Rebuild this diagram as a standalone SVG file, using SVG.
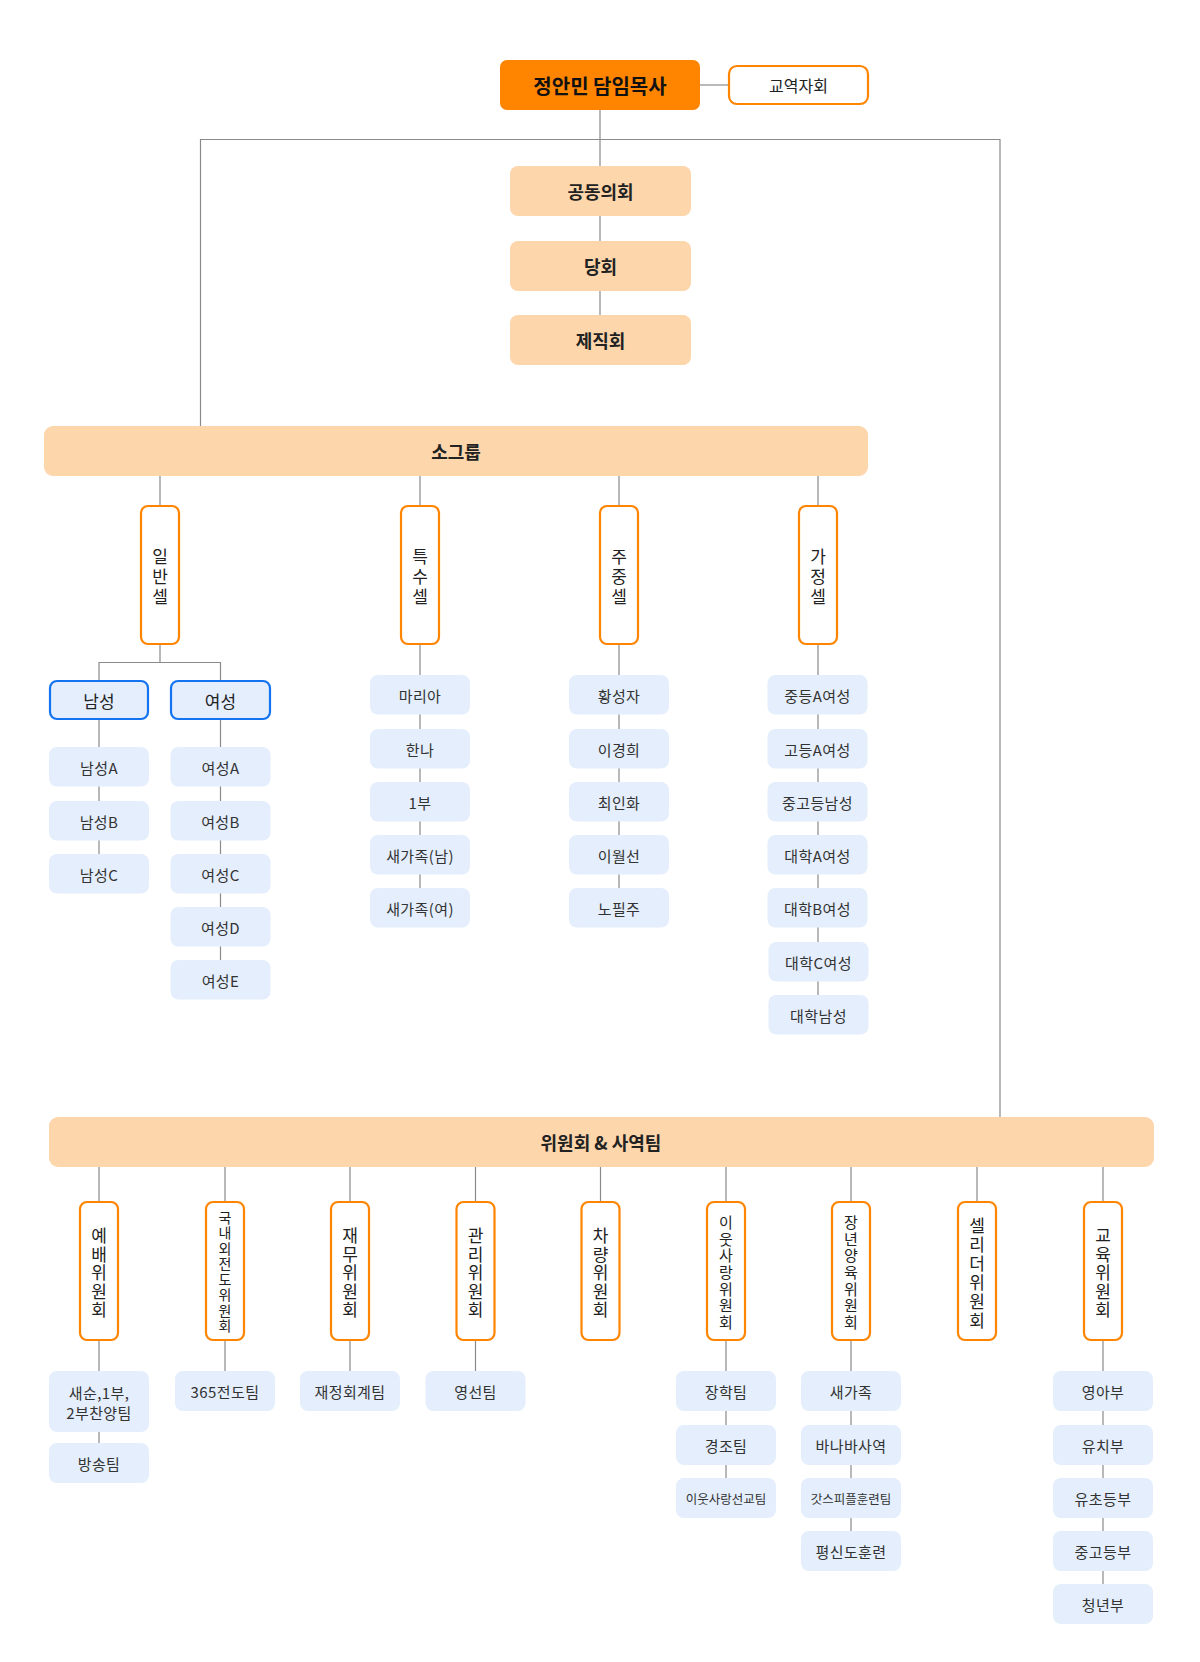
<svg xmlns="http://www.w3.org/2000/svg" width="1200" height="1662" viewBox="0 0 1200 1662">
<style>
text{font-family:"Noto Sans CJK KR","Noto Sans",sans-serif;fill:#222;text-anchor:middle;dominant-baseline:central}
.ln{fill:none;stroke:#8a8a8a;stroke-width:1.2}
.main{fill:#FF8500}
.mainT{font-size:20px;font-weight:700;fill:#111}
.out{fill:#fff;stroke:#FF8500;stroke-width:2.2}
.peach{fill:#FDD6AB}
.peachT{font-size:18px;font-weight:700}
.sub{fill:#E4EEFC}
.subT{font-size:15px;fill:#333;letter-spacing:0.4px}
.small{font-size:12.5px;fill:#333}
.blue{fill:#E4EEFC;stroke:#1473F0;stroke-width:2.2}
.blueT{font-size:17px;fill:#222}
.v17{font-size:17px}
.v15{font-size:15px}
.v14{font-size:14px}
.ctr{font-size:16px}
</style>
<rect width="1200" height="1662" fill="#fff"/>
<g id="connectors">
<path class="ln" d="M700 85H728"/>
<path class="ln" d="M600 110V166M600 216V241M600 291V315"/>
<path class="ln" d="M200.5 426V139.5H1000V1117"/>
<path class="ln" d="M160 476V506M420 476V506M619 476V506M818 476V506"/>
<path class="ln" d="M160 644V662.5M99 681V662.5H220.5V681"/>
<path class="ln" d="M99 719V854M220.5 719V960"/>
<path class="ln" d="M420 644V888M619 644V888M818 644V995"/>
<path class="ln" d="M99 1167V1202M225 1167V1202M350 1167V1202M475.5 1167V1202M600.5 1167V1202M726 1167V1202M851 1167V1202M977 1167V1202M1103 1167V1202"/>
<path class="ln" d="M99 1340V1443M225 1340V1371M350 1340V1371M475.5 1340V1371M726 1340V1478M851 1340V1531M1103 1340V1584"/>
</g>
<g id="pastor"><rect class="main" x="500" y="60" width="200" height="50" rx="7"/><text class="mainT" x="600" y="85">정안민 담임목사</text></g>
<g id="staff"><rect class="out" x="729" y="66" width="139" height="38" rx="8"/><text class="ctr" x="798.5" y="85">교역자회</text></g>
<g id="joint"><rect class="peach" x="510" y="166" width="181" height="50" rx="8"/><text class="peachT" x="600.5" y="191">공동의회</text></g>
<g id="session"><rect class="peach" x="510" y="241" width="181" height="50" rx="8"/><text class="peachT" x="600.5" y="266">당회</text></g>
<g id="deacons"><rect class="peach" x="510" y="315" width="181" height="50" rx="8"/><text class="peachT" x="600.5" y="340">제직회</text></g>
<g id="smallgroup"><rect class="peach" x="44" y="426" width="824" height="50" rx="9"/><text class="peachT" x="456" y="451">소그룹</text></g>

<g id="cell-general"><rect class="out" x="141" y="506" width="38" height="138" rx="7"/><text class="v17"><tspan x="160" y="555">일</tspan><tspan x="160" y="575">반</tspan><tspan x="160" y="595">셀</tspan></text></g>
<g id="cell-special"><rect class="out" x="401" y="506" width="38" height="138" rx="7"/><text class="v17"><tspan x="420" y="555">특</tspan><tspan x="420" y="575">수</tspan><tspan x="420" y="595">셀</tspan></text></g>
<g id="cell-weekday"><rect class="out" x="600" y="506" width="38" height="138" rx="7"/><text class="v17"><tspan x="619" y="555">주</tspan><tspan x="619" y="575">중</tspan><tspan x="619" y="595">셀</tspan></text></g>
<g id="cell-family"><rect class="out" x="799" y="506" width="38" height="138" rx="7"/><text class="v17"><tspan x="818" y="555">가</tspan><tspan x="818" y="575">정</tspan><tspan x="818" y="595">셀</tspan></text></g>

<g id="men"><rect class="blue" x="50" y="681" width="98" height="38" rx="7"/><text class="blueT" x="99" y="700">남성</text></g>
<g id="women"><rect class="blue" x="171" y="681" width="99" height="38" rx="7"/><text class="blueT" x="220.5" y="700">여성</text></g>

<g id="men-a"><rect class="sub" x="49" y="747" width="100" height="39.5" rx="8"/><text class="subT" x="99" y="767">남성A</text></g>
<g id="men-b"><rect class="sub" x="49" y="801" width="100" height="39.5" rx="8"/><text class="subT" x="99" y="821">남성B</text></g>
<g id="men-c"><rect class="sub" x="49" y="854" width="100" height="39.5" rx="8"/><text class="subT" x="99" y="874">남성C</text></g>
<g id="women-a"><rect class="sub" x="170.5" y="747" width="100" height="39.5" rx="8"/><text class="subT" x="220.5" y="767">여성A</text></g>
<g id="women-b"><rect class="sub" x="170.5" y="801" width="100" height="39.5" rx="8"/><text class="subT" x="220.5" y="821">여성B</text></g>
<g id="women-c"><rect class="sub" x="170.5" y="854" width="100" height="39.5" rx="8"/><text class="subT" x="220.5" y="874">여성C</text></g>
<g id="women-d"><rect class="sub" x="170.5" y="907" width="100" height="39.5" rx="8"/><text class="subT" x="220.5" y="927">여성D</text></g>
<g id="women-e"><rect class="sub" x="170.5" y="960" width="100" height="39.5" rx="8"/><text class="subT" x="220.5" y="980">여성E</text></g>

<g id="sp-1"><rect class="sub" x="370" y="675" width="100" height="39.5" rx="8"/><text class="subT" x="420" y="695">마리아</text></g>
<g id="sp-2"><rect class="sub" x="370" y="729" width="100" height="39.5" rx="8"/><text class="subT" x="420" y="749">한나</text></g>
<g id="sp-3"><rect class="sub" x="370" y="782" width="100" height="39.5" rx="8"/><text class="subT" x="420" y="802">1부</text></g>
<g id="sp-4"><rect class="sub" x="370" y="835" width="100" height="39.5" rx="8"/><text class="subT" x="420" y="855">새가족(남)</text></g>
<g id="sp-5"><rect class="sub" x="370" y="888" width="100" height="39.5" rx="8"/><text class="subT" x="420" y="908">새가족(여)</text></g>

<g id="wd-1"><rect class="sub" x="569" y="675" width="100" height="39.5" rx="8"/><text class="subT" x="619" y="695">황성자</text></g>
<g id="wd-2"><rect class="sub" x="569" y="729" width="100" height="39.5" rx="8"/><text class="subT" x="619" y="749">이경희</text></g>
<g id="wd-3"><rect class="sub" x="569" y="782" width="100" height="39.5" rx="8"/><text class="subT" x="619" y="802">최인화</text></g>
<g id="wd-4"><rect class="sub" x="569" y="835" width="100" height="39.5" rx="8"/><text class="subT" x="619" y="855">이월선</text></g>
<g id="wd-5"><rect class="sub" x="569" y="888" width="100" height="39.5" rx="8"/><text class="subT" x="619" y="908">노필주</text></g>

<g id="fm-1"><rect class="sub" x="767.5" y="675" width="100" height="39.5" rx="8"/><text class="subT" x="817.5" y="695">중등A여성</text></g>
<g id="fm-2"><rect class="sub" x="767.5" y="729" width="100" height="39.5" rx="8"/><text class="subT" x="817.5" y="749">고등A여성</text></g>
<g id="fm-3"><rect class="sub" x="767.5" y="782" width="100" height="39.5" rx="8"/><text class="subT" x="817.5" y="802">중고등남성</text></g>
<g id="fm-4"><rect class="sub" x="767.5" y="835" width="100" height="39.5" rx="8"/><text class="subT" x="817.5" y="855">대학A여성</text></g>
<g id="fm-5"><rect class="sub" x="767.5" y="888" width="100" height="39.5" rx="8"/><text class="subT" x="817.5" y="908">대학B여성</text></g>
<g id="fm-6"><rect class="sub" x="768.5" y="942" width="100" height="39.5" rx="8"/><text class="subT" x="818.5" y="962">대학C여성</text></g>
<g id="fm-7"><rect class="sub" x="768.5" y="995" width="100" height="39.5" rx="8"/><text class="subT" x="818.5" y="1015">대학남성</text></g>

<g id="committees"><rect class="peach" x="49" y="1117" width="1105" height="50" rx="9"/><text class="peachT" x="601" y="1142">위원회 &amp; 사역팀</text></g>

<g id="c-worship"><rect class="out" x="80" y="1202" width="38" height="138" rx="7"/><text class="v17"><tspan x="99" y="1234">예</tspan><tspan x="99" y="1252.5">배</tspan><tspan x="99" y="1271">위</tspan><tspan x="99" y="1289.5">원</tspan><tspan x="99" y="1308">회</tspan></text></g>
<g id="c-mission"><rect class="out" x="206" y="1202" width="38" height="138" rx="7"/><text class="v14"><tspan x="225" y="1216.75">국</tspan><tspan x="225" y="1232.25">내</tspan><tspan x="225" y="1247.75">외</tspan><tspan x="225" y="1263.25">전</tspan><tspan x="225" y="1278.75">도</tspan><tspan x="225" y="1294.25">위</tspan><tspan x="225" y="1309.75">원</tspan><tspan x="225" y="1325.25">회</tspan></text></g>
<g id="c-finance"><rect class="out" x="331" y="1202" width="38" height="138" rx="7"/><text class="v17"><tspan x="350" y="1234">재</tspan><tspan x="350" y="1252.5">무</tspan><tspan x="350" y="1271">위</tspan><tspan x="350" y="1289.5">원</tspan><tspan x="350" y="1308">회</tspan></text></g>
<g id="c-facility"><rect class="out" x="456.5" y="1202" width="38" height="138" rx="7"/><text class="v17"><tspan x="475.5" y="1234">관</tspan><tspan x="475.5" y="1252.5">리</tspan><tspan x="475.5" y="1271">위</tspan><tspan x="475.5" y="1289.5">원</tspan><tspan x="475.5" y="1308">회</tspan></text></g>
<g id="c-vehicle"><rect class="out" x="581.5" y="1202" width="38" height="138" rx="7"/><text class="v17"><tspan x="600.5" y="1234">차</tspan><tspan x="600.5" y="1252.5">량</tspan><tspan x="600.5" y="1271">위</tspan><tspan x="600.5" y="1289.5">원</tspan><tspan x="600.5" y="1308">회</tspan></text></g>
<g id="c-neighbor"><rect class="out" x="707" y="1202" width="38" height="138" rx="7"/><text class="v15"><tspan x="726" y="1220.9">이</tspan><tspan x="726" y="1237.6">웃</tspan><tspan x="726" y="1254.3">사</tspan><tspan x="726" y="1271">랑</tspan><tspan x="726" y="1287.7">위</tspan><tspan x="726" y="1304.4">원</tspan><tspan x="726" y="1321.1">회</tspan></text></g>
<g id="c-adult"><rect class="out" x="832" y="1202" width="38" height="138" rx="7"/><text class="v15"><tspan x="851" y="1220.9">장</tspan><tspan x="851" y="1237.6">년</tspan><tspan x="851" y="1254.3">양</tspan><tspan x="851" y="1271">육</tspan><tspan x="851" y="1287.7">위</tspan><tspan x="851" y="1304.4">원</tspan><tspan x="851" y="1321.1">회</tspan></text></g>
<g id="c-cellleader"><rect class="out" x="958" y="1202" width="38" height="138" rx="7"/><text class="v17"><tspan x="977" y="1223.5">셀</tspan><tspan x="977" y="1242.5">리</tspan><tspan x="977" y="1261.5">더</tspan><tspan x="977" y="1280.5">위</tspan><tspan x="977" y="1299.5">원</tspan><tspan x="977" y="1318.5">회</tspan></text></g>
<g id="c-education"><rect class="out" x="1084" y="1202" width="38" height="138" rx="7"/><text class="v17"><tspan x="1103" y="1234">교</tspan><tspan x="1103" y="1252.5">육</tspan><tspan x="1103" y="1271">위</tspan><tspan x="1103" y="1289.5">원</tspan><tspan x="1103" y="1308">회</tspan></text></g>

<g id="w-1"><rect class="sub" x="49" y="1371" width="100" height="61" rx="8"/><text class="subT"><tspan x="99" y="1392">새순,1부,</tspan><tspan x="99" y="1412">2부찬양팀</tspan></text></g>
<g id="w-2"><rect class="sub" x="49" y="1443" width="100" height="40" rx="8"/><text class="subT" x="99" y="1463">방송팀</text></g>
<g id="m-1"><rect class="sub" x="175" y="1371" width="100" height="40" rx="8"/><text class="subT" x="225" y="1391">365전도팀</text></g>
<g id="f-1"><rect class="sub" x="300" y="1371" width="100" height="40" rx="8"/><text class="subT" x="350" y="1391">재정회계팀</text></g>
<g id="fa-1"><rect class="sub" x="425.5" y="1371" width="100" height="40" rx="8"/><text class="subT" x="475.5" y="1391">영선팀</text></g>
<g id="n-1"><rect class="sub" x="676" y="1371" width="100" height="40" rx="8"/><text class="subT" x="726" y="1391">장학팀</text></g>
<g id="n-2"><rect class="sub" x="676" y="1425" width="100" height="40" rx="8"/><text class="subT" x="726" y="1445">경조팀</text></g>
<g id="n-3"><rect class="sub" x="676" y="1478" width="100" height="40" rx="8"/><text class="small" x="726" y="1498">이웃사랑선교팀</text></g>
<g id="a-1"><rect class="sub" x="801" y="1371" width="100" height="40" rx="8"/><text class="subT" x="851" y="1391">새가족</text></g>
<g id="a-2"><rect class="sub" x="801" y="1425" width="100" height="40" rx="8"/><text class="subT" x="851" y="1445">바나바사역</text></g>
<g id="a-3"><rect class="sub" x="801" y="1478" width="100" height="40" rx="8"/><text class="small" x="851" y="1498">갓스피플훈련팀</text></g>
<g id="a-4"><rect class="sub" x="801" y="1531" width="100" height="40" rx="8"/><text class="subT" x="851" y="1551">평신도훈련</text></g>
<g id="e-1"><rect class="sub" x="1053" y="1371" width="100" height="40" rx="8"/><text class="subT" x="1103" y="1391">영아부</text></g>
<g id="e-2"><rect class="sub" x="1053" y="1425" width="100" height="40" rx="8"/><text class="subT" x="1103" y="1445">유치부</text></g>
<g id="e-3"><rect class="sub" x="1053" y="1478" width="100" height="40" rx="8"/><text class="subT" x="1103" y="1498">유초등부</text></g>
<g id="e-4"><rect class="sub" x="1053" y="1531" width="100" height="40" rx="8"/><text class="subT" x="1103" y="1551">중고등부</text></g>
<g id="e-5"><rect class="sub" x="1053" y="1584" width="100" height="40" rx="8"/><text class="subT" x="1103" y="1604">청년부</text></g>
</svg>
